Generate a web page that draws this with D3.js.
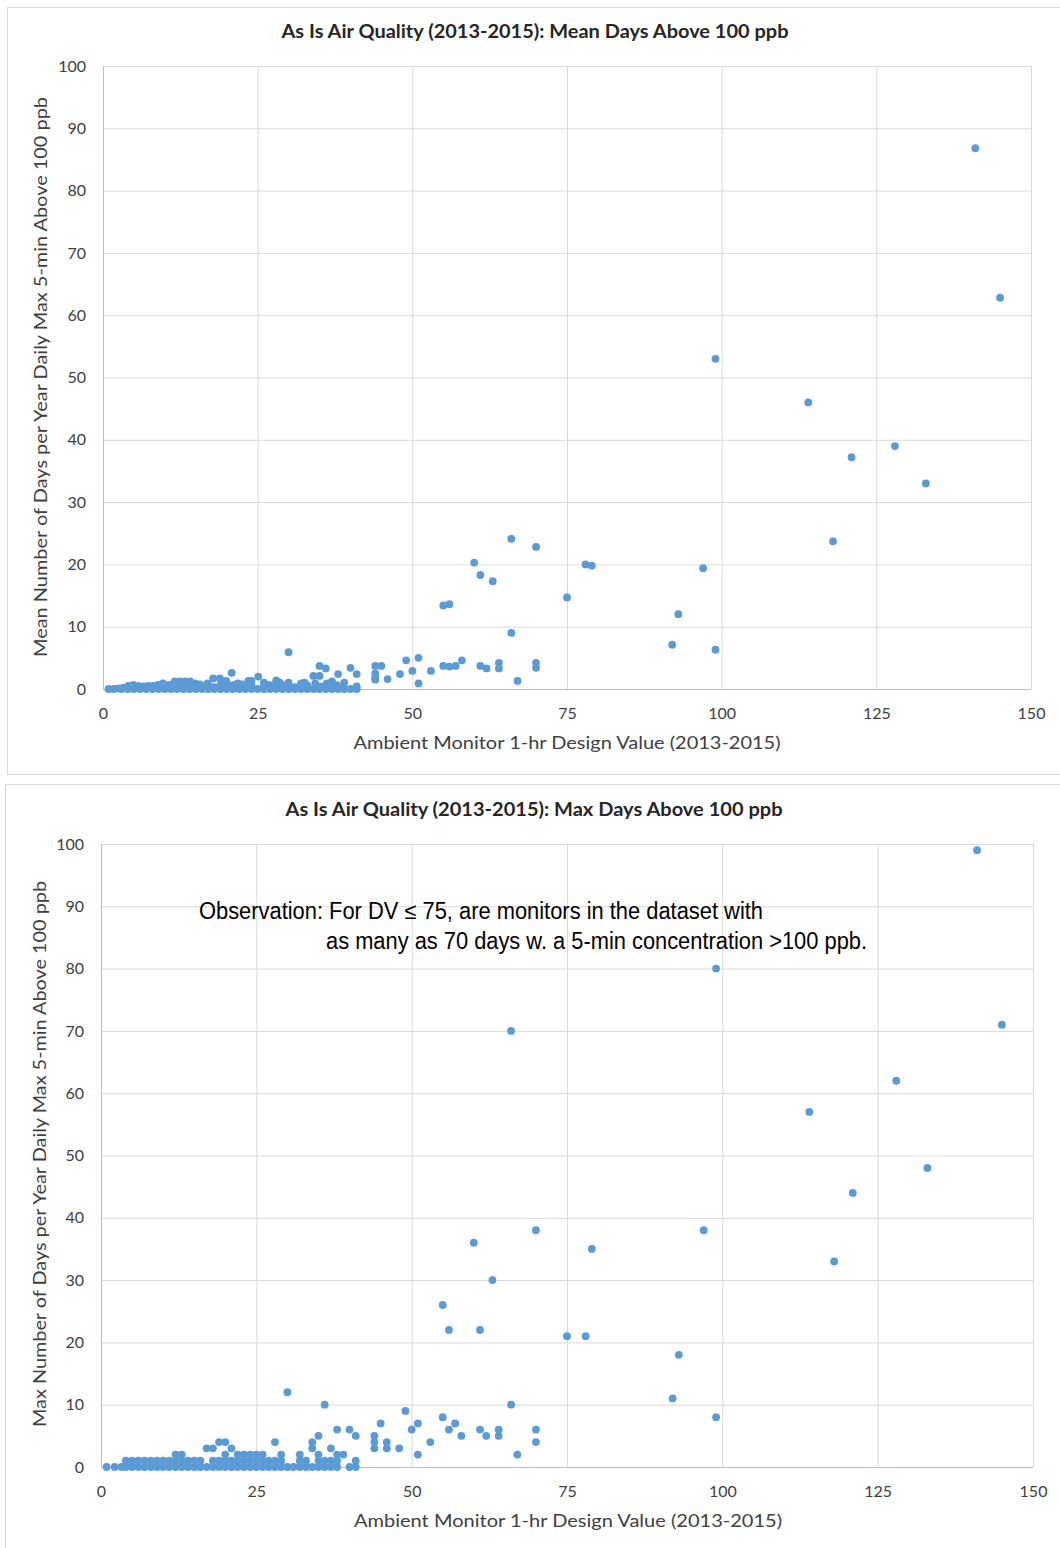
<!DOCTYPE html>
<html>
<head>
<meta charset="utf-8">
<script src="https://cdn.jsdelivr.net/npm/d3@7"></script>
<style>
  html, body { margin: 0; padding: 0; background: #fff; }
  svg { display: block; }
</style>
</head>
<body>
<svg id="chart" width="1060" height="1548"></svg>
<script>
// ---------- data ----------
const xTicks = [0, 25, 50, 75, 100, 125, 150];
const yTicks = [0, 10, 20, 30, 40, 50, 60, 70, 80, 90, 100];

const titleMean = "As Is Air Quality (2013-2015): Mean Days Above 100 ppb";
const titleMax = "As Is Air Quality (2013-2015): Max Days Above 100 ppb";
const yLabelMean = "Mean Number of Days per Year Daily Max 5-min Above 100 ppb";
const yLabelMax = "Max Number of Days per Year Daily Max 5-min Above 100 ppb";
const xLabel = "Ambient Monitor 1-hr Design Value (2013-2015)";
const noteLine1 = "Observation: For DV \u2264 75, are monitors in the dataset with";
const noteLine2 = "as many as 70 days w. a 5-min concentration >100 ppb.";

// Chart 1: mean days above 100 ppb
const meanDV = [
  141, 145, 99, 114, 121, 128, 133, 118, 97, 93, 92, 99,
  66, 70, 60, 61, 63, 78, 79, 75, 55, 56, 66,
  70, 70, 67, 64, 64, 61, 62, 58, 55, 56, 57, 53,
  51, 49, 50, 51, 48, 46, 44, 45, 44, 44, 44,
  30, 35, 36, 34, 35, 38, 40, 41,
  28, 28.6, 30, 32, 32.6, 34.3, 34.3, 35, 36.2, 37, 37, 37.8, 39, 40, 41, 41,
  20.8, 25.1, 24, 26, 17.8, 18.9, 19.9, 21.8, 22.5, 23.5, 26.8, 27.8,
  0.9, 1.7, 2.5, 3.3, 4.1, 4.9, 5.7, 6.5, 7.3, 8.1, 8.9, 9.7, 10.6, 11.6, 12.4, 13.3, 14.1, 14.9, 15.7, 16.9,
  3, 4, 5, 6, 7, 8, 9, 10, 11, 12, 13, 14, 15, 16, 17, 18, 19, 20, 21, 22, 23, 24, 25, 26, 27, 28, 29, 30, 31, 32, 33, 34, 35, 36, 37, 38, 39,
  6, 8, 10, 12, 14, 16, 18, 20, 22, 24, 26, 29, 31, 33, 36, 38,
  11, 13, 15, 17, 19, 20, 21, 23, 24, 29, 30, 33, 36
];
const meanDays = [
  86.8, 62.8, 53, 46, 37.2, 39, 33, 23.7, 19.4, 12, 7.1, 6.3,
  24.1, 22.8, 20.3, 18.3, 17.3, 20, 19.8, 14.7, 13.4, 13.6, 9,
  4.2, 3.4, 1.3, 4.2, 3.3, 3.7, 3.3, 4.6, 3.7, 3.6, 3.7, 2.9,
  5, 4.6, 2.9, 0.9, 2.4, 1.6, 3.7, 3.7, 2.5, 1.8, 1.5,
  5.9, 3.7, 3.3, 2.1, 2.1, 2.4, 3.4, 2.4,
  1.4, 1, 1, 0.9, 1, 0.9, 0.1, 0.4, 0.9, 1.2, 0.4, 0.6, 1, 0, 0.4, 0,
  2.6, 2.0, 1.3, 1.0, 1.7, 1.7, 1.3, 0.9, 0.75, 1.3, 0.65, 0.65,
  0, 0, 0.1, 0.2, 0.5, 0.65, 0.5, 0.4, 0.5, 0.5, 0.65, 0.9, 0.65, 1.2, 1.2, 1.2, 1.2, 0.9, 0.75, 0.9,
  0, 0, 0, 0, 0, 0, 0, 0, 0, 0, 0, 0, 0, 0, 0, 0, 0, 0, 0, 0, 0, 0, 0, 0, 0, 0, 0, 0, 0, 0, 0, 0, 0, 0, 0, 0, 0,
  0.3, 0.3, 0.3, 0.3, 0.3, 0.3, 0.3, 0.3, 0.3, 0.3, 0.3, 0.3, 0.3, 0.3, 0.3, 0.3,
  0.6, 0.6, 0.6, 0.6, 0.6, 0.6, 0.6, 0.6, 0.6, 0.6, 0.6, 0.6, 0.6
];

// Chart 2: max days above 100 ppb
const maxDV = [
  141, 145, 99, 66, 128, 114, 133, 121, 97, 70, 60, 79, 118, 63, 55, 56, 61, 75, 78, 93, 92, 66, 30, 99, 36,
  49, 55, 45, 51, 57, 38, 40, 50, 56, 61, 64, 70,
  35, 41, 44, 58, 62, 64,
  19, 20, 28, 34, 44, 46, 53, 70,
  17, 18, 21, 34, 37, 44, 46, 48,
  12, 13, 20, 22, 23, 24, 25, 26, 29, 32, 35, 38, 39, 51, 67,
  4, 5, 6, 7, 8, 9, 10, 11, 12, 13, 14, 15, 16, 18, 19, 20, 21, 22, 23, 24, 25, 26, 27, 28, 29, 32, 33, 35, 36, 37, 38, 41,
  0.9, 2.2, 3.3, 4, 5, 6, 7, 8, 9, 10, 11, 12, 13, 14, 15, 16, 17, 18, 19, 20, 21, 22, 23, 24, 25, 26, 27, 28, 29, 30, 31, 32, 33, 34, 35, 36, 37, 38, 40, 41
];
const maxDays = [
  99, 71, 80, 70, 62, 57, 48, 44, 38, 38, 36, 35, 33, 30, 26, 22, 22, 21, 21, 18, 11, 10, 12, 8, 10,
  9, 8, 7, 7, 7, 6, 6, 6, 6, 6, 6, 6,
  5, 5, 5, 5, 5, 5,
  4, 4, 4, 4, 4, 4, 4, 4,
  3, 3, 3, 3, 3, 3, 3, 3,
  2, 2, 2, 2, 2, 2, 2, 2, 2, 2, 2, 2, 2, 2, 2,
  1, 1, 1, 1, 1, 1, 1, 1, 1, 1, 1, 1, 1, 1, 1, 1, 1, 1, 1, 1, 1, 1, 1, 1, 1, 1, 1, 1, 1, 1, 1, 1,
  0, 0, 0, 0, 0, 0, 0, 0, 0, 0, 0, 0, 0, 0, 0, 0, 0, 0, 0, 0, 0, 0, 0, 0, 0, 0, 0, 0, 0, 0, 0, 0, 0, 0, 0, 0, 0, 0, 0, 0
];

// ---------- drawing ----------
const svg = d3.select("#chart");
const FONT = "Lato, 'Open Sans', 'Liberation Sans', sans-serif";
const DOT = "#5b9bd5";
const GRID = "#d9d9d9";

function drawChart(cfg) {
  const g = svg.append("g");
  // outer frame
  g.append("rect")
    .attr("x", cfg.frame[0] + 0.5).attr("y", cfg.frame[1] + 0.5)
    .attr("width", cfg.frame[2]).attr("height", cfg.frame[3])
    .attr("fill", "#fff").attr("stroke", GRID).attr("stroke-width", 1);

  const x = d3.scaleLinear().domain([0, 150]).range([cfg.left, cfg.right]);
  const y = d3.scaleLinear().domain([0, 100]).range([cfg.bottom, cfg.top]);

  // gridlines via axes
  const gx = g.append("g").attr("transform", `translate(0,${cfg.bottom})`)
    .call(d3.axisBottom(x).tickValues(xTicks).tickSize(-(cfg.bottom - cfg.top)).tickFormat(d3.format("d")).tickPadding(19));
  gx.select(".domain").remove();
  gx.selectAll(".tick line").attr("stroke", GRID);
  gx.selectAll(".tick text").attr("font-family", FONT).attr("font-size", 16).attr("fill", "#404040");

  const gy = g.append("g").attr("transform", `translate(${cfg.left},0)`)
    .call(d3.axisLeft(y).tickValues(yTicks).tickSize(-(cfg.right - cfg.left)).tickFormat(d3.format("d")).tickPadding(17));
  gy.select(".domain").remove();
  gy.selectAll(".tick line").attr("stroke", GRID);
  gy.selectAll(".tick text").attr("font-family", FONT).attr("font-size", 16).attr("fill", "#404040");

  // axis lines
  g.append("line").attr("x1", cfg.left).attr("x2", cfg.right)
    .attr("y1", cfg.bottom + 0.5).attr("y2", cfg.bottom + 0.5).attr("stroke", "#bfbfbf");
  g.append("line").attr("x1", cfg.left + 0.5).attr("x2", cfg.left + 0.5)
    .attr("y1", cfg.top).attr("y2", cfg.bottom).attr("stroke", "#bfbfbf");

  // title
  g.append("text").attr("x", cfg.titleX).attr("y", cfg.titleY)
    .attr("text-anchor", "middle").attr("font-family", FONT).attr("font-weight", "bold")
    .attr("font-size", 18).attr("fill", "#262626")
    .attr("textLength", cfg.titleLen).attr("lengthAdjust", "spacingAndGlyphs")
    .text(cfg.title);

  // x label
  g.append("text").attr("x", cfg.xLabX).attr("y", cfg.xLabY)
    .attr("text-anchor", "middle").attr("font-family", FONT)
    .attr("font-size", 18).attr("fill", "#404040")
    .attr("textLength", cfg.xLabLen).attr("lengthAdjust", "spacingAndGlyphs")
    .text(xLabel);

  // y label
  g.append("text")
    .attr("transform", `translate(${cfg.yLabX},${cfg.yLabY}) rotate(-90)`)
    .attr("text-anchor", "middle").attr("font-family", FONT)
    .attr("font-size", 18).attr("fill", "#404040")
    .attr("textLength", cfg.yLabLen).attr("lengthAdjust", "spacingAndGlyphs")
    .text(cfg.yLabel);

  // points
  const pts = cfg.xs.map((d, i) => [d, cfg.ys[i]]);
  g.append("g").selectAll("circle").data(pts).join("circle")
    .attr("cx", d => x(d[0])).attr("cy", d => y(d[1]))
    .attr("r", 3.9).attr("fill", DOT);

  return { g, x, y };
}

drawChart({
  frame: [7, 7, 1060, 767],
  left: 103, right: 1031, top: 66, bottom: 689,
  title: titleMean, titleX: 535, titleY: 38, titleLen: 507,
  xLabX: 567, xLabY: 749, xLabLen: 427,
  yLabel: yLabelMean, yLabX: 47, yLabY: 377, yLabLen: 560,
  xs: meanDV, ys: meanDays
});

const c2 = drawChart({
  frame: [5, 784, 1060, 770],
  left: 101, right: 1033, top: 844, bottom: 1467,
  title: titleMax, titleX: 534, titleY: 816, titleLen: 497,
  xLabX: 568, xLabY: 1527, xLabLen: 428,
  yLabel: yLabelMax, yLabX: 46, yLabY: 1154, yLabLen: 546,
  xs: maxDV, ys: maxDays
});

// observation note
const NOTEFONT = "'Liberation Sans Narrow', 'Arial Narrow', 'Liberation Sans', Arial, sans-serif";
c2.g.append("text").attr("x", 199).attr("y", 919)
  .attr("font-family", NOTEFONT).attr("font-size", 23).attr("fill", "#000")
  .attr("textLength", 564).attr("lengthAdjust", "spacingAndGlyphs")
  .text(noteLine1);

c2.g.append("text").attr("x", 326).attr("y", 949)
  .attr("font-family", NOTEFONT).attr("font-size", 23).attr("fill", "#000")
  .attr("textLength", 541).attr("lengthAdjust", "spacingAndGlyphs")
  .text(noteLine2);
</script>
</body>
</html>
